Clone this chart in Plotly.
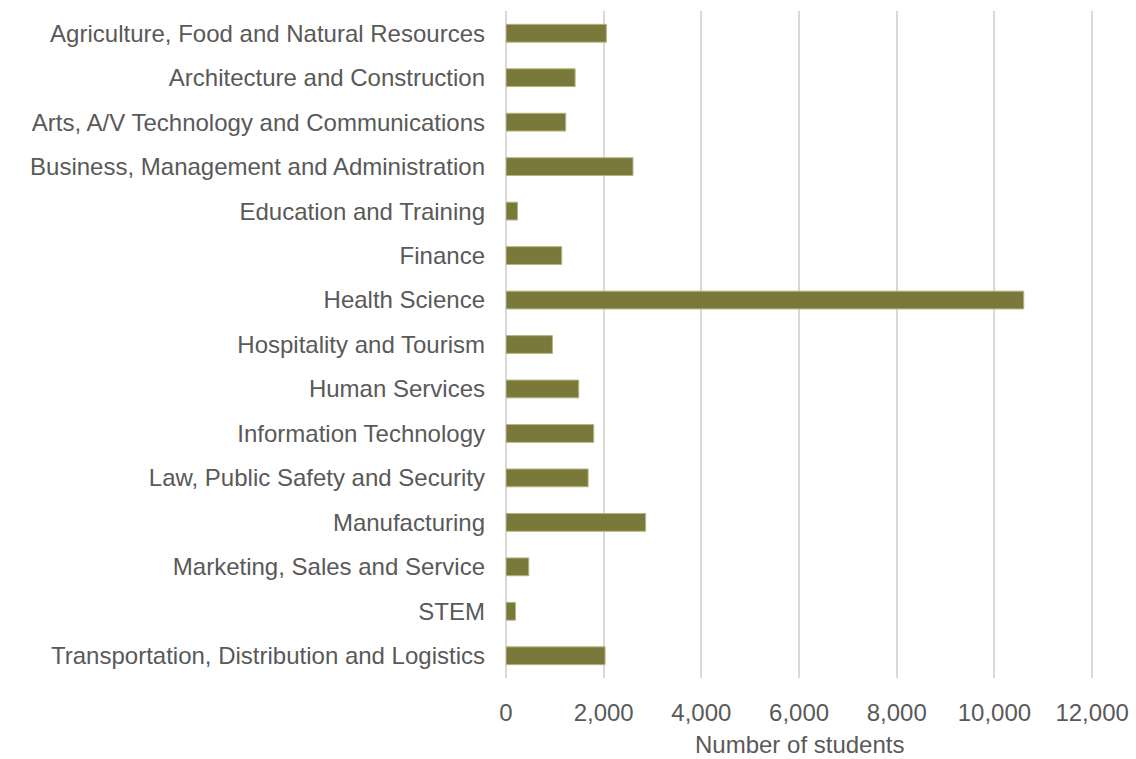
import plotly.graph_objects as go

categories = [
    "Agriculture, Food and Natural Resources",
    "Architecture and Construction",
    "Arts, A/V Technology and Communications",
    "Business, Management and Administration",
    "Education and Training",
    "Finance",
    "Health Science",
    "Hospitality and Tourism",
    "Human Services",
    "Information Technology",
    "Law, Public Safety and Security",
    "Manufacturing",
    "Marketing, Sales and Service",
    "STEM",
    "Transportation, Distribution and Logistics",
]
students = [2055, 1415, 1223, 2600, 235, 1141, 10600, 951, 1489, 1796, 1681, 2859, 466, 194, 2028]
x_ticks = [0, 2000, 4000, 6000, 8000, 10000, 12000]
x_title = "Number of students"

fig = go.Figure(go.Bar(
    x=students,
    y=categories,
    orientation="h",
    width=0.4,
    marker=dict(color="#7a783b", line=dict(color="#b5b47f", width=1)),
))

font = dict(family="Liberation Sans, Arial, sans-serif", size=24, color="#595959")
fig.update_layout(
    width=1136, height=759,
    margin=dict(l=506, r=39, t=11, b=81),
    plot_bgcolor="white", paper_bgcolor="white",
    font=font,
    showlegend=False,
)
fig.update_xaxes(
    range=[0, 12100],
    tickvals=x_ticks,
    tickformat=",d",
    showgrid=True, gridcolor="#d9d9d9", gridwidth=1.5,
    zeroline=True, zerolinecolor="#d9d9d9", zerolinewidth=1.5,
    showline=False,
    ticks="", ticklabelstandoff=18,
    automargin=False,
)
fig.update_yaxes(
    autorange="reversed",
    showgrid=False, zeroline=False, showline=False,
    ticks="", ticklabelstandoff=20,
    automargin=False,
)
fig.add_annotation(
    text=x_title, x=6000, xref="x", y=-0.1, yref="paper",
    xanchor="center", yanchor="middle", showarrow=False, font=font,
    borderpad=0,
)
fig.write_html(
    "out.html",
    config={"displayModeBar": False},
    post_script="document.body.style.margin='0';",
)
